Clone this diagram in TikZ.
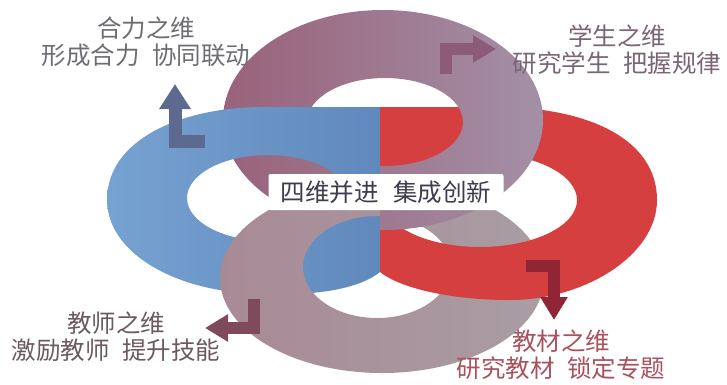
\documentclass[tikz,border=0pt]{standalone}
\usepackage{fontspec}
\newfontfamily\cjk{Noto Sans CJK SC}
\usetikzlibrary{arrows.meta}
\definecolor{blueL}{HTML}{76A2D1}
\definecolor{blueR}{HTML}{4A6EA7}
\definecolor{ringred}{HTML}{D63F3F}
\definecolor{topL}{HTML}{99627A}
\definecolor{topR}{HTML}{A390A6}
\definecolor{botL}{HTML}{A88A95}
\definecolor{botR}{HTML}{A99DA4}
\definecolor{arrA}{HTML}{5C6A8F}
\definecolor{arrB}{HTML}{8C5B78}
\definecolor{arrC}{HTML}{7E4A5C}
\definecolor{arrD}{HTML}{8F2535}
\definecolor{lblA}{HTML}{6D6D75}
\definecolor{lblB}{HTML}{7B6676}
\definecolor{lblC}{HTML}{6C5A62}
\definecolor{lblD}{HTML}{A8525E}
\definecolor{midtxt}{HTML}{3D3D4D}
\begin{document}
\begin{tikzpicture}[x=1pt,y=-1pt,
  bentarrow/.style={line width=12pt, line join=miter, -{Triangle[length=23pt,width=26pt]}},
  bigarrow/.style={line width=13pt, line join=miter, -{Triangle[length=25pt,width=30pt]}},
  lbl/.style={font=\cjk\fontsize{24.5}{27}\selectfont, align=center, inner sep=0pt},
]
\useasboundingbox[fill=white] (0,0) rectangle (727,384);
\def\toppath{(383,120) ellipse [x radius=160, y radius=110] (385,122) ellipse [x radius=78, y radius=44]}
\def\botpath{(382,278) ellipse [x radius=162, y radius=95] (377,267) ellipse [x radius=74, y radius=51]}
\def\brpath{(107,200) .. controls (107,140) and (180,108) .. (260,107)
  -- (500,107) .. controls (590,108) and (657,140) .. (657,200)
  .. controls (657,255) and (585,300) .. (510,300)
  .. controls (450,300) and (400,288) .. (380,272)
  .. controls (360,288) and (320,296) .. (262,294)
  .. controls (170,292) and (107,250) .. (107,200) -- cycle
  (268,198) ellipse [x radius=81, y radius=43]
  (480,200) ellipse [x radius=97, y radius=47]}
% left half: top ring < blue < bottom ring
\begin{scope}
\clip (0,0) rectangle (380,384);
\shade[left color=topL, right color=topR, even odd rule] \toppath;
\shade[left color=blueL, right color=blueR, even odd rule] \brpath;
\shade[left color=botL, right color=botR, even odd rule] \botpath;
\end{scope}
% right half: bottom ring < red < top ring
\begin{scope}
\clip (380,0) rectangle (727,384);
\shade[left color=botL, right color=botR, even odd rule] \botpath;
\fill[ringred, even odd rule] \brpath;
\shade[left color=topL, right color=topR, even odd rule] \toppath;
\end{scope}
% centre box
\node[fill=white, minimum width=235pt, minimum height=36pt, rounded corners=2pt, inner sep=0pt,
  font=\cjk\fontsize{24.5}{27}\selectfont, text=midtxt] (centre) at (386,192) {四维并进\hspace{0.6em}集成创新};
% labels
\node[lbl, text=lblA] (heli) at (146,42) {合力之维\\形成合力\hspace{0.5em}协同联动};
\node[lbl, text=lblB] (xuesheng) at (617,50) {学生之维\\研究学生\hspace{0.5em}把握规律};
\node[lbl, text=lblC] (jiaoshi) at (116,337) {教师之维\\激励教师\hspace{0.5em}提升技能};
\node[lbl, text=lblD] (jiaocai) at (561,355) {教材之维\\研究教材\hspace{0.5em}锁定专题};
% bent arrows
\coordinate (a1s) at (205,141);
\coordinate (a1e) at (175,84);
\draw[bigarrow, arrA] (a1s) -| (a1e);
\coordinate (a2s) at (446,74);
\coordinate (a2e) at (496,49);
\draw[bentarrow, arrB] (a2s) |- (a2e);
\coordinate (a3s) at (254,299);
\coordinate (a3e) at (205,328);
\draw[bentarrow, arrC] (a3s) |- (a3e);
\coordinate (a4s) at (526,266);
\coordinate (a4e) at (554,320);
\draw[bentarrow, arrD] (a4s) -| (a4e);
\end{tikzpicture}
\end{document}
